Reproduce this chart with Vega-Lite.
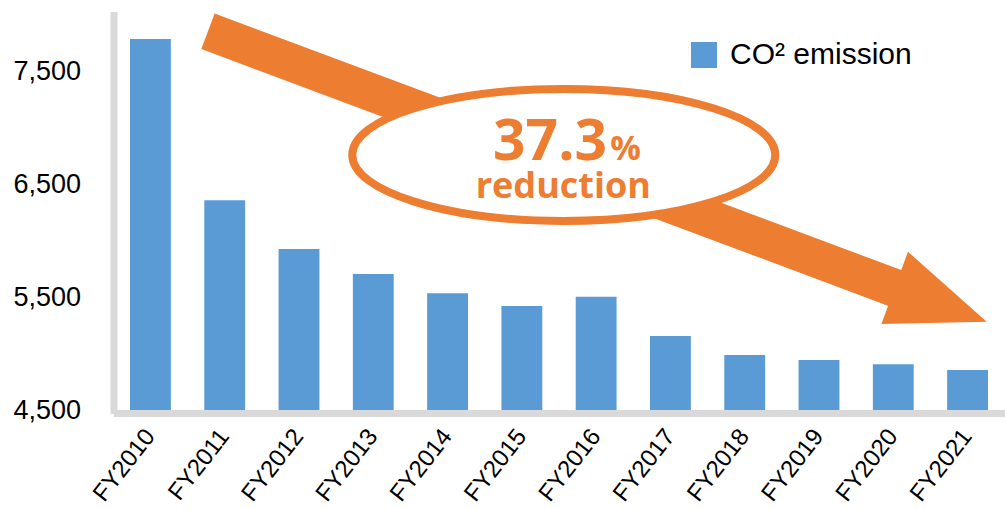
{
  "$schema": "https://vega.github.io/schema/vega-lite/v6.json",
  "width": 884,
  "height": 395,
  "autosize": {"type": "none"},
  "padding": {"left": 117, "top": 15, "right": 4, "bottom": 99},
  "background": "white",
  "config": {"view": {"stroke": null}},
  "resolve": {"scale": {"x": "independent"}, "axis": {"x": "independent", "y": "independent"}},
  "layer": [
    {
      "data": {
        "values": [
          {"year": "FY2010", "emission": 7787, "series": "CO² emission"},
          {"year": "FY2011", "emission": 6358, "series": "CO² emission"},
          {"year": "FY2012", "emission": 5927, "series": "CO² emission"},
          {"year": "FY2013", "emission": 5705, "series": "CO² emission"},
          {"year": "FY2014", "emission": 5534, "series": "CO² emission"},
          {"year": "FY2015", "emission": 5421, "series": "CO² emission"},
          {"year": "FY2016", "emission": 5504, "series": "CO² emission"},
          {"year": "FY2017", "emission": 5155, "series": "CO² emission"},
          {"year": "FY2018", "emission": 4987, "series": "CO² emission"},
          {"year": "FY2019", "emission": 4943, "series": "CO² emission"},
          {"year": "FY2020", "emission": 4905, "series": "CO² emission"},
          {"year": "FY2021", "emission": 4854, "series": "CO² emission"}
        ]
      },
      "mark": {"type": "bar"},
      "encoding": {
        "x": {
          "field": "year", "type": "nominal", "sort": null,
          "scale": {"paddingInner": 0.45, "paddingOuter": 0.175},
          "axis": {
            "title": null, "labelAngle": -52, "labelAlign": "right", "labelBaseline": "middle",
            "labelFont": "Liberation Sans", "labelFontSize": 24, "labelColor": "#000000",
            "labelPadding": 19, "ticks": false, "tickSize": 0,
            "domainColor": "#D9D9D9", "domainWidth": 7, "domainCap": "square", "offset": 3,
            "labelOverlap": false
          }
        },
        "y": {
          "field": "emission", "type": "quantitative",
          "scale": {"domain": [4500, 8000], "nice": false, "zero": false},
          "axis": {
            "title": null, "values": [4500, 5500, 6500, 7500], "format": ",.0f",
            "labelFont": "Liberation Sans", "labelFontSize": 27, "labelColor": "#000000",
            "labelPadding": 33, "ticks": false, "tickSize": 0, "grid": false,
            "domainColor": "#D9D9D9", "domainWidth": 7, "domainCap": "square", "offset": 3.5,
            "labelOverlap": false
          }
        },
        "y2": {"datum": 4500},
        "color": {
          "field": "series", "type": "nominal",
          "scale": {"range": ["#5B9BD5"]},
          "legend": {
            "title": null, "orient": "none", "legendX": 572, "legendY": 25,
            "symbolType": "square", "symbolSize": 676, "symbolStrokeWidth": 0, "symbolOpacity": 1,
            "labelFont": "Liberation Sans", "labelFontSize": 30, "labelColor": "#000000",
            "labelOffset": 11, "labelLimit": 400, "padding": 0
          }
        }
      }
    },
    {
      "layer": [
        {
          "data": {"values": [{"x": 0.775, "y": 7856, "x2": 10.08, "y2": 5567}]},
          "mark": {"type": "rule", "color": "#ED7D31", "strokeWidth": 38, "strokeCap": "butt"},
          "encoding": {
            "x": {"field": "x", "type": "quantitative", "scale": {"domain": [-0.45, 11.45], "nice": false, "zero": false}, "axis": null},
            "y": {"field": "y", "type": "quantitative", "scale": {"domain": [4500, 8000], "nice": false, "zero": false}, "axis": null},
            "x2": {"field": "x2"},
            "y2": {"field": "y2"}
          }
        },
        {
          "data": {"values": [{"x": 10.638, "y": 5432}]},
          "mark": {"type": "point", "shape": "M 1 0 L -1 -0.786 L -1 0.786 Z", "size": 9604, "angle": 20.2, "filled": true, "color": "#ED7D31", "opacity": 1, "strokeWidth": 0},
          "encoding": {
            "x": {"field": "x", "type": "quantitative", "scale": {"domain": [-0.45, 11.45], "nice": false, "zero": false}, "axis": null},
            "y": {"field": "y", "type": "quantitative", "scale": {"domain": [4500, 8000], "nice": false, "zero": false}, "axis": null}
          }
        },
        {
          "data": {"values": [{"x": 5.564, "y": 6760}]},
          "mark": {"type": "point", "shape": "M -1 0 C -1 -0.1723 -0.5523 -0.312 0 -0.312 C 0.5523 -0.312 1 -0.1723 1 0 C 1 0.1723 0.5523 0.312 0 0.312 C -0.5523 0.312 -1 0.1723 -1 0 Z", "size": 178929, "filled": true, "fill": "#FFFFFF", "stroke": "#ED7D31", "strokeWidth": 8, "opacity": 1},
          "encoding": {
            "x": {"field": "x", "type": "quantitative", "scale": {"domain": [-0.45, 11.45], "nice": false, "zero": false}, "axis": null},
            "y": {"field": "y", "type": "quantitative", "scale": {"domain": [4500, 8000], "nice": false, "zero": false}, "axis": null}
          }
        },
        {
          "data": {"values": [{"x": 6.146, "y": 6715, "t": "37.3"}]},
          "mark": {"type": "text", "font": "Open Sans", "fontWeight": "bold", "fontSize": 57, "color": "#ED7D31", "align": "right", "baseline": "alphabetic"},
          "encoding": {
            "x": {"field": "x", "type": "quantitative", "scale": {"domain": [-0.45, 11.45], "nice": false, "zero": false}, "axis": null},
            "y": {"field": "y", "type": "quantitative", "scale": {"domain": [4500, 8000], "nice": false, "zero": false}, "axis": null},
            "text": {"field": "t"}
          }
        },
        {
          "data": {"values": [{"x": 6.19, "y": 6715, "t": "%"}]},
          "mark": {"type": "text", "font": "Open Sans", "fontWeight": "bold", "fontSize": 34, "color": "#ED7D31", "align": "left", "baseline": "alphabetic"},
          "encoding": {
            "x": {"field": "x", "type": "quantitative", "scale": {"domain": [-0.45, 11.45], "nice": false, "zero": false}, "axis": null},
            "y": {"field": "y", "type": "quantitative", "scale": {"domain": [4500, 8000], "nice": false, "zero": false}, "axis": null},
            "text": {"field": "t"}
          }
        },
        {
          "data": {"values": [{"x": 5.558, "y": 6376, "t": "reduction"}]},
          "mark": {"type": "text", "font": "Open Sans", "fontWeight": "bold", "fontSize": 36, "color": "#ED7D31", "align": "center", "baseline": "alphabetic"},
          "encoding": {
            "x": {"field": "x", "type": "quantitative", "scale": {"domain": [-0.45, 11.45], "nice": false, "zero": false}, "axis": null},
            "y": {"field": "y", "type": "quantitative", "scale": {"domain": [4500, 8000], "nice": false, "zero": false}, "axis": null},
            "text": {"field": "t"}
          }
        }
      ]
    }
  ]
}
